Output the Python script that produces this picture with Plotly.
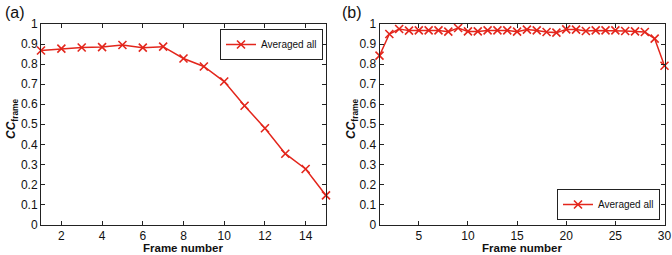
import plotly.graph_objects as go

frames_a = list(range(1, 16))
cc_a = [0.868, 0.877, 0.883, 0.885, 0.895, 0.882, 0.887, 0.828, 0.788, 0.713,
        0.592, 0.480, 0.353, 0.277, 0.145]

frames_b = list(range(1, 31))
cc_b = [0.842, 0.950, 0.975, 0.967, 0.968, 0.968, 0.968, 0.962, 0.980, 0.963,
        0.963, 0.968, 0.968, 0.968, 0.962, 0.972, 0.968, 0.960, 0.957, 0.973,
        0.972, 0.965, 0.968, 0.968, 0.968, 0.965, 0.963, 0.960, 0.927, 0.792]

series_name = "Averaged all"
x_title = "Frame number"
y_title = "<b><i>CC</i></b><sub><b>frame</b></sub>"
panel_labels = ["(a)", "(b)"]

RED = "#e3261c"
W, H = 672, 255
FONT = "Liberation Sans, Arial, sans-serif"

fig = go.Figure()
fig.add_trace(go.Scatter(
    x=frames_a, y=cc_a, mode="lines+markers", name=series_name,
    line=dict(color=RED, width=1.5), showlegend=True, cliponaxis=False,
    marker=dict(symbol="x-thin", size=8, line=dict(color=RED, width=1.6)),
    xaxis="x", yaxis="y", legend="legend"))
fig.add_trace(go.Scatter(
    x=frames_b, y=cc_b, mode="lines+markers", name=series_name,
    line=dict(color=RED, width=1.5), showlegend=True, cliponaxis=False,
    marker=dict(symbol="x-thin", size=8, line=dict(color=RED, width=1.6)),
    xaxis="x2", yaxis="y2", legend="legend2"))

ax_common = dict(showline=True, linecolor="#222", linewidth=1, mirror="ticks",
                 ticks="inside", ticklen=4, tickcolor="#222", showgrid=False,
                 zeroline=False, automargin=False,
                 tickfont=dict(family=FONT, size=12, color="#111"))

def px_x(p):
    return p / W

def px_y(p):
    return 1 - p / H

leg_common = dict(bgcolor="white", bordercolor="#222", borderwidth=1,
                  font=dict(family=FONT, size=10, color="#111"),
                  itemwidth=30, tracegroupgap=0, visible=True)

fig.update_layout(
    width=W, height=H, margin=dict(l=0, r=0, t=0, b=0, autoexpand=False),
    paper_bgcolor="white", plot_bgcolor="white", showlegend=True,
    font=dict(family=FONT, color="#111"),
    xaxis=dict(domain=[px_x(41), px_x(326)], range=[1, 15], tick0=0, dtick=2,
               anchor="y", **ax_common),
    yaxis=dict(domain=[px_y(224.5), px_y(24)], range=[0, 1], dtick=0.1,
               anchor="x", **ax_common),
    xaxis2=dict(domain=[px_x(379.5), px_x(664.5)], range=[1, 30], tick0=0, dtick=5,
                anchor="y2", **ax_common),
    yaxis2=dict(domain=[px_y(224.5), px_y(24)], range=[0, 1], dtick=0.1,
                anchor="x2", **ax_common),
    legend=dict(x=px_x(323), y=px_y(29), xanchor="right", yanchor="top", **leg_common),
    legend2=dict(x=px_x(660), y=px_y(220), xanchor="right", yanchor="bottom", **leg_common),
)

annotations = []
for cx, lab in zip([15, 352], panel_labels):
    annotations.append(dict(x=px_x(cx), y=px_y(12), xref="paper", yref="paper",
                            text=lab, showarrow=False, xanchor="center", yanchor="middle",
                            font=dict(family=FONT, size=16, color="#111")))
for cx in [183.5, 522]:
    annotations.append(dict(x=px_x(cx), y=px_y(248), xref="paper", yref="paper",
                            text="<b>" + x_title + "</b>", showarrow=False,
                            xanchor="center", yanchor="middle",
                            font=dict(family=FONT, size=11.5, color="#111")))
for cx in [12, 352]:
    annotations.append(dict(x=px_x(cx), y=px_y(119), xref="paper", yref="paper",
                            text=y_title, showarrow=False, textangle=-90,
                            xanchor="center", yanchor="middle",
                            font=dict(family=FONT, size=12, color="#111")))
fig.update_layout(annotations=annotations)

fig.write_html("out.html", config={"displayModeBar": False},
               post_script="document.body.style.margin='0';document.body.style.padding='0';")
